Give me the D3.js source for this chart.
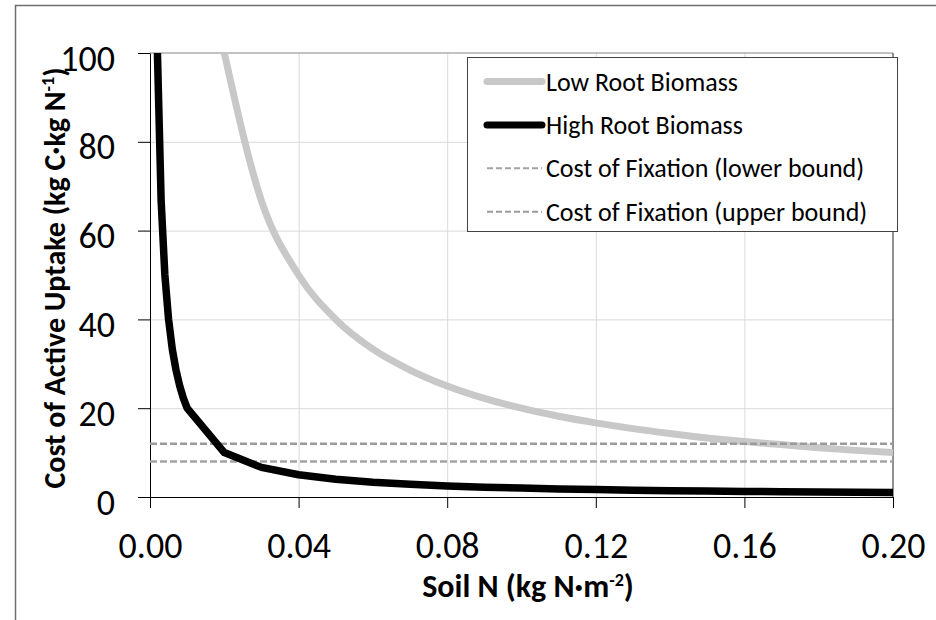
<!DOCTYPE html>
<html>
<head>
<meta charset="utf-8">
<script src="https://cdn.jsdelivr.net/npm/d3@7/dist/d3.min.js"></script>
<style>
body { margin: 0; background: #fff; }
svg { display: block; font-family: Carlito, Lato, "Liberation Sans", sans-serif; }
</style>
</head>
<body>
<svg width="936" height="620"></svg>
<script>
// values
var lowX  = [0.02, 0.03, 0.04, 0.05, 0.06, 0.07, 0.08, 0.09, 0.10, 0.11, 0.12, 0.13, 0.14, 0.15, 0.16, 0.17, 0.18, 0.19, 0.20];
var lowY  = [100, 66.7, 50, 40, 33.3, 28.6, 25, 22.2, 20, 18.2, 16.7, 15.4, 14.3, 13.3, 12.5, 11.8, 11.1, 10.5, 10];

var highX = [0.002, 0.003, 0.004, 0.005, 0.006, 0.007, 0.008, 0.009, 0.01, 0.02, 0.03, 0.04, 0.05, 0.06, 0.07, 0.08, 0.09, 0.10,
             0.11, 0.12, 0.13, 0.14, 0.15, 0.16, 0.17, 0.18, 0.19, 0.20];
var highY = [100, 66.7, 50, 40, 33.3, 28.6, 25, 22.2, 20, 10, 6.67, 5, 4, 3.33, 2.86, 2.5, 2.22, 2, 1.82, 1.67, 1.54, 1.43,
             1.33, 1.25, 1.18, 1.11, 1.05, 1.0];

var fixX      = [0, 0.20];
var fixLowerY = [8, 8];
var fixUpperY = [12, 12];

var xTicks = [0, 0.04, 0.08, 0.12, 0.16, 0.20];
var yTicks = [0, 20, 40, 60, 80, 100];

var seriesNames = ['Low Root Biomass', 'High Root Biomass', 'Cost of Fixation (lower bound)', 'Cost of Fixation (upper bound)'];

var svg = d3.select('svg');

var x = d3.scaleLinear().domain([0, 0.2]).range([150, 893]);
var y = d3.scaleLinear().domain([0, 100]).range([497, 53]);

// outer chart frame
svg.append('rect')
    .attr('x', 15.5).attr('y', 5.5)
    .attr('width', 1000).attr('height', 1000)
    .attr('fill', 'none')
    .attr('stroke', '#6e6e6e')
    .attr('stroke-width', 1.5);

// gridlines
svg.append('g')
    .attr('transform', 'translate(0,' + y(0) + ')')
    .call(d3.axisBottom(x).tickValues(xTicks.slice(1, -1)).tickSize(-(y(0) - y(100))).tickFormat(''))
    .call(function (g) { g.select('.domain').remove(); })
    .selectAll('line').attr('stroke', '#d9d9d9');

svg.append('g')
    .attr('transform', 'translate(' + x(0) + ',0)')
    .call(d3.axisLeft(y).tickValues(yTicks.slice(1, -1)).tickSize(-(x(0.2) - x(0))).tickFormat(''))
    .call(function (g) { g.select('.domain').remove(); })
    .selectAll('line').attr('stroke', '#d9d9d9');

// plot area border (top / right)
svg.append('line')
    .attr('x1', x(0)).attr('x2', x(0.2))
    .attr('y1', y(100)).attr('y2', y(100))
    .attr('stroke', '#868686');
svg.append('line')
    .attr('x1', x(0.2)).attr('x2', x(0.2))
    .attr('y1', y(100)).attr('y2', y(0))
    .attr('stroke', '#222');

// axes
var xAxis = svg.append('g')
    .attr('transform', 'translate(0,' + y(0) + ')')
    .call(d3.axisBottom(x).tickValues(xTicks).tickSize(11).tickSizeOuter(0).tickFormat(d3.format('.2f')));
xAxis.select('.domain').attr('stroke', '#000');
xAxis.selectAll('.tick line').attr('stroke', '#000');
xAxis.selectAll('text')
    .attr('y', 61).attr('dy', null)
    .attr('fill', '#000')
    .style('font-size', '36px')
    .style('font-family', 'Carlito, Lato, sans-serif');

var yAxis = svg.append('g')
    .attr('transform', 'translate(' + x(0) + ',0)')
    .call(d3.axisLeft(y).tickValues(yTicks).tickSize(12).tickSizeOuter(0));
yAxis.select('.domain').attr('stroke', '#000');
yAxis.selectAll('.tick line').attr('stroke', '#000');
yAxis.selectAll('text')
    .attr('x', -35).attr('dy', null).attr('y', 17)
    .attr('fill', '#000')
    .style('font-size', '36px')
    .style('font-family', 'Carlito, Lato, sans-serif');

// axis titles
var xt = svg.append('text')
    .attr('x', 528).attr('y', 597)
    .attr('text-anchor', 'middle')
    .style('font-size', '32px').style('font-weight', 'bold');
xt.append('tspan').text('Soil N (kg N\u00b7m');
xt.append('tspan').attr('dy', -11).style('font-size', '18px').text('-2');
xt.append('tspan').attr('dy', 11).text(')');

var yt = svg.append('text')
    .attr('transform', 'translate(65,278) rotate(-90)')
    .attr('text-anchor', 'middle')
    .style('font-size', '30px').style('font-weight', 'bold');
yt.append('tspan').text('Cost of Active Uptake (kg C\u00b7kg N');
yt.append('tspan').attr('dy', -11).style('font-size', '18px').text('-1');
yt.append('tspan').attr('dy', 11).text(')');

// series
var line = d3.line()
    .x(function (d) { return x(d[0]); })
    .y(function (d) { return y(d[1]); });

svg.append('path')
    .datum(d3.zip(lowX, lowY))
    .attr('d', line.curve(d3.curveMonotoneX))
    .attr('fill', 'none')
    .attr('stroke', '#c8c8c8')
    .attr('stroke-width', 7);
line.curve(d3.curveLinear);

svg.append('path')
    .datum(d3.zip(fixX, fixUpperY))
    .attr('d', line)
    .attr('fill', 'none')
    .attr('stroke', '#9b9b9b')
    .attr('stroke-width', 2.5)
    .attr('stroke-dasharray', '7,3');

svg.append('path')
    .datum(d3.zip(fixX, fixLowerY))
    .attr('d', line)
    .attr('fill', 'none')
    .attr('stroke', '#a3a3a3')
    .attr('stroke-width', 2.5)
    .attr('stroke-dasharray', '7,3');

svg.append('path')
    .datum(d3.zip(highX, highY))
    .attr('d', line)
    .attr('fill', 'none')
    .attr('stroke', '#000')
    .attr('stroke-width', 7.5)
    .attr('stroke-linejoin', 'round');

// legend
var legendStyles = [
    { color: '#c8c8c8', width: 7, dash: null, cap: 'round' },
    { color: '#000', width: 7, dash: null, cap: 'round' },
    { color: '#a3a3a3', width: 2, dash: '6,3', cap: 'butt' },
    { color: '#9b9b9b', width: 2, dash: '6,3', cap: 'butt' }
];

var legend = svg.append('g');
legend.append('rect')
    .attr('x', 467.5).attr('y', 57.5)
    .attr('width', 430).attr('height', 174)
    .attr('fill', '#fff')
    .attr('stroke', '#444');

var items = legend.selectAll('g.item')
    .data(seriesNames)
    .enter()
    .append('g')
    .attr('class', 'item')
    .attr('transform', function (d, i) { return 'translate(0,' + (81.5 + i * 43.4) + ')'; });

items.append('line')
    .attr('x1', 487).attr('x2', 542)
    .attr('stroke', function (d, i) { return legendStyles[i].color; })
    .attr('stroke-width', function (d, i) { return legendStyles[i].width; })
    .attr('stroke-dasharray', function (d, i) { return legendStyles[i].dash; })
    .attr('stroke-linecap', function (d, i) { return legendStyles[i].cap; });

items.append('text')
    .attr('x', 546).attr('y', 9)
    .style('font-size', '26px')
    .text(function (d) { return d; });
</script>
</body>
</html>
